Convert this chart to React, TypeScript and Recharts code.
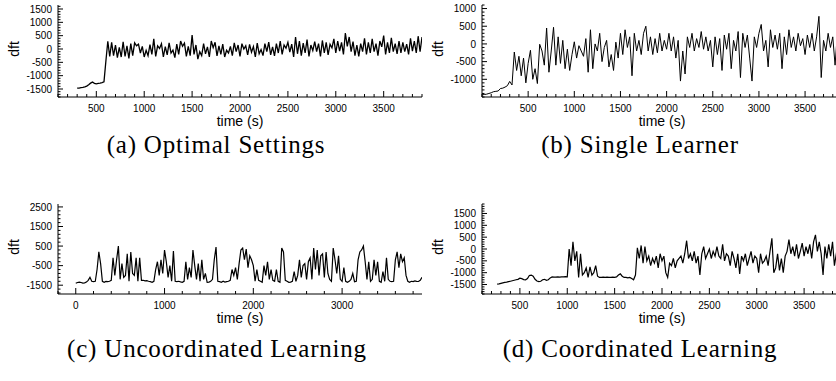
import React from 'react';
import { LineChart, Line, XAxis, YAxis } from 'recharts';

// ---------- data ----------
// (a) Optimal Settings: samples every 20 s starting at t = 300 s
const A_T0 = 300;
const A_STEP = 20;
const aValues = [
  -1470, -1465, -1450, -1440, -1420, -1390, -1340, -1280, -1240, -1290, -1310, -1290, -1280, -1260, -1230,
  -450, 290, -280, 250, -250, 150, -320, 60, -300, 270, -280, 120, -350, 200, -250,
  230, 120, 180, -150, 100, -300, -50, -250, 160, -200, 380, -280, 120, 20, 200,
  -300, 90, -220, 230, -150, -40, -320, 180, -200, 300, 100, 220, -280, 100, -250,
  520, -200, 150, -380, -100, -250, 200, -180, 80, -300, 300, 50, 250, -260, 120,
  -200, 180, -300, -50, -150, 100, -250, 230, -100, 150, -280, 200, 0, 120, -220,
  170, -120, 90, -300, 220, -180, -20, -250, 200, -100, 260, -220, 80, -260, 200,
  -150, 300, -200, 150, 30, 250, -120, 180, -300, 450, -180, 300, -250, 220, -150,
  350, -280, 150, -60, 280, -100, 200, -280, 320, -150, 250, -220, 180, 40, 380,
  -150, 300, -80, 250, -200, 600, 100, 450, -100, 280, -250, 150, -280, 200, -100,
  400, -200, 250, -150, 380, -100, 200, -250, 300, 80, 500, -200, 250, -150, 420,
  -100, 200, -180, 300, -150, 250, -100, 180, -200, 400, -80, 300, -150, 480, -100, 450,
];

// (b) Single Learner: samples every 25 s starting at t = 0 s
const B_T0 = 0;
const B_STEP = 25;
const bValues = [
  -1440, -1430, -1420, -1400, -1380, -1350, -1340, -1330, -1260, -1250, -1220, -1180, -1060, -1160,
  -230, -750, -350, -900, -400, -1100, -550, -180, -1000, -700, -1120, -10, -200, -600, 450, -800,
  -200, 470, -600, 200, -550, 100, -700, -150, -750, -300, 60, -400, -50, -200, -350, 150,
  -800, 400, -700, 0, -200, 300, -500, -100, 100, -650, -300, -750, 50, -400, 300, -300,
  400, -100, 200, -900, 300, -200, 100, -300, 300, 500, -200, 200, -300, 150, -250, 300,
  -200, 100, -150, 300, -200, 200, -400, 100, -1050, -200, -850, 200, -100, 300, -200, 150,
  -100, 350, -150, 200, -200, 100, -650, 200, -300, 150, -750, 250, -150, 300, -700, 100,
  -200, 350, -950, 300, -100, 250, -400, -1050, 200, -100, 300, 550, -200, 100, -650, 400,
  -100, 250, -150, 300, -700, 200, -300, 400, -100, 200, -200, 300, -50, 150, -300, 250,
  -100, 300, -200, 200, 780, -950, 100, -200, 300, -100, 200, -600, 300, -100, 250,
];

// (c) Uncoordinated Learning: samples every 20 s starting at t = 0 s
const C_T0 = 0;
const C_STEP = 20;
const cValues = [
  -1400, -1360, -1340, -1360, -1390, -1380, -1340, -1250, -1100, -1300, -1320, -1300, -700, 200, -400,
  -1300, -1350, -1310, -1320, -1300, -1250, -100, -1000, -200, 500, -1200, -400, -1100, -1000, 100,
  -1300, 200, -900, -1000, -100, -1300, -100, -1250, -1250, -1280, -1270, -1300, -1320, -1350, -1300,
  -700, -300, -1000, -200, -900, 300, -300, -1100, -500, -1300, 250, -1300, -1320, -1300, -1330,
  -1350, -1300, -300, -1200, -600, -1100, 300, -500, -1200, -400, -1300, -200, -1200, -900, -1350,
  -1340, -1300, -1200, -200, 450, -1300, -1320, -1350, -1300, -1340, -1320, -1300, -1250, -700, -1000,
  -600, -1200, -400, 300, 400, -200, 350, -600, 0, -200, -500, -1300, -700, -1250, -1300,
  -1350, -500, -1000, -300, -1200, -700, -1250, -1300, -700, -1300, -1350, 400, 200, -1250, -1300,
  -1350, -1340, -1300, -800, -1300, -1000, -200, -1100, -500, -400, -1200, -300, -100, -1200, 400,
  -700, 300, -1000, 0, 100, -1100, 200, -900, -1200, -1300, 400, -200, -900, 0, -1200,
  -1300, -600, -1300, -1350, -1300, -1200, -900, -1320, -1300, -200, 200, 300, 500, -300, -1200,
  -300, -1300, -1200, -200, -1000, -300, -1300, -1350, -800, -1300, -100, -1200, -1300, -1320, -1300,
  -200, 200, -600, 100, -300, -100, -1000, -1300, -1350, -1300, -1320, -1280, -1300, -1310, -1250, -1100,
];

// (d) Coordinated Learning: samples every 20 s starting at t = 260 s
const D_T0 = 260;
const D_STEP = 20;
const dValues = [
  -1480, -1470, -1450, -1430, -1410, -1400, -1380, -1360, -1340, -1320, -1300, -1280, -1230, -1250, -1290,
  -1300, -1250, -1120, -1100, -1150, -1280, -1350, -1380, -1360, -1300, -1280, -1320, -1300, -1220, -1180,
  -1190, -1190, -1180, -1190, -1180, -1180, -1170, -1180, 0, -700, 300, -500, -100, -1200, -200,
  -1100, -1000, -800, -1200, -750, -1100, -1000, -700, -1150, -1200, -1200, -1190, -1200, -1190, -1200,
  -1200, -1190, -1200, -1180, -1100, -1050, -1150, -1200, -1200, -1220, -1200, -1250, -1300, -1100, 50,
  -400, 150, -600, 100, -500, -300, -700, -400, -600, -300, -800, -200, -500, -300, -1000,
  -1200, -600, -700, -400, -800, -500, -400, -300, -600, -200, 350, -400, -200, -500, -100,
  -600, -300, -1100, -200, 100, -400, -200, 0, -400, -100, -300, 100, -300, -400, 200,
  -500, -200, -300, -700, -100, -400, -800, -200, -1050, -300, -500, -200, -700, -400, -100,
  -600, -300, -400, -1000, -200, -600, -500, -300, -700, -100, 450, -1000, -800, -200, -900,
  -400, -1000, -300, -100, 400, -200, 100, -300, 200, -400, -100, 250, -300, 100, -200,
  200, -400, 300, 600, -100, 300, -200, -1100, 100, -400, 200, -300, 300, -700, -200, 300, -400, -200,
];

// axis ticks (labels)
const aXMajor = [500, 1000, 1500, 2000, 2500, 3000, 3500];
const aYMajor = [-1500, -1000, -500, 0, 500, 1000, 1500];
const bXMajor = [500, 1000, 1500, 2000, 2500, 3000, 3500];
const bYMajor = [-1000, -500, 0, 500, 1000];
const cXMajor = [0, 1000, 2000, 3000];
const cYMajor = [-1500, -500, 500, 1500, 2500];
const dXMajor = [500, 1000, 1500, 2000, 2500, 3000, 3500];
const dYMajor = [-1500, -1000, -500, 0, 500, 1000, 1500];

const captions = ['(a) Optimal Settings', '(b) Single Learner', '(c) Uncoordinated Learning', '(d) Coordinated Learning'];

// ---------- helpers ----------
const toRows = (t0: number, step: number, vals: number[]) => vals.map((v, i) => ({ t: t0 + i * step, v }));

const range = (lo: number, hi: number, step: number, anchor: number) => {
  const out: number[] = [];
  let s = anchor;
  while (s - step >= lo) s -= step;
  while (s < lo) s += step;
  for (let x = s; x <= hi + 1e-9; x += step) out.push(Math.round(x));
  return out;
};

const SANS = '"Liberation Sans", Arial, Helvetica, sans-serif';

const makeXTick = (majors: number[]) => (props: any) => {
  const { x, y, payload } = props;
  const v = payload.value;
  const major = majors.includes(v);
  return (
    <g>
      <line x1={x} x2={x} y1={y} y2={y - (major ? 6 : 3)} stroke="#000" strokeWidth={1} />
      {major && (
        <text x={x} y={y + 15} textAnchor="middle" fontSize={10} fontFamily={SANS} fill="#000">
          {v}
        </text>
      )}
    </g>
  );
};

const makeYTick = (majors: number[]) => (props: any) => {
  const { x, y, payload } = props;
  const v = payload.value;
  const major = majors.includes(v);
  return (
    <g>
      <line x1={x} x2={x + (major ? 5 : 2.5)} y1={y} y2={y} stroke="#000" strokeWidth={1} />
      {major && (
        <text x={x - 6} y={y + 3.6} textAnchor="end" fontSize={10} fontFamily={SANS} fill="#000">
          {v}
        </text>
      )}
    </g>
  );
};

type PanelProps = {
  left: number;
  top: number;
  rows: { t: number; v: number }[];
  xDomain: [number, number];
  yDomain: [number, number];
  xMajor: number[];
  yMajor: number[];
  xMinorStep: number;
  yMinorStep: number;
  marginTop: number;
  yAxisWidth: number;
  xAxisHeight: number;
  topStroke: string;
  topWidth: number;
  strokeWidth: number;
};

const W = 430;
const H = 140;

function Panel(p: PanelProps) {
  const xTicks = range(p.xDomain[0], p.xDomain[1], p.xMinorStep, p.xMajor[0]);
  const yTicks = range(p.yDomain[0], p.yDomain[1], p.yMinorStep, p.yMajor[0]);
  const plotLeft = p.yAxisWidth;
  const plotRight = W - 8;
  const plotBottom = H - p.xAxisHeight;
  const plotTop = p.marginTop;
  const cx = (plotLeft + plotRight) / 2;
  const cy = (plotTop + plotBottom) / 2;
  return (
    <div style={{ position: 'absolute', left: p.left, top: p.top, width: W, height: H }}>
      <LineChart width={W} height={H} data={p.rows} margin={{ top: p.marginTop, right: 8, bottom: 0, left: 0 }}>
        <XAxis
          xAxisId="top"
          orientation="top"
          type="number"
          dataKey="t"
          domain={p.xDomain}
          allowDataOverflow
          height={0}
          tick={false}
          tickLine={false}
          axisLine={{ stroke: p.topStroke, strokeWidth: p.topWidth }}
        />
        <YAxis
          yAxisId="right"
          orientation="right"
          type="number"
          dataKey="v"
          domain={p.yDomain}
          allowDataOverflow
          width={0}
          tick={false}
          tickLine={false}
          axisLine={{ stroke: '#000', strokeWidth: 1 }}
        />
        <XAxis
          type="number"
          dataKey="t"
          domain={p.xDomain}
          allowDataOverflow
          ticks={xTicks}
          interval={0}
          height={p.xAxisHeight}
          tickSize={0}
          tickMargin={0}
          tickLine={false}
          tick={makeXTick(p.xMajor)}
          axisLine={{ stroke: '#000', strokeWidth: 1 }}
          label={() => (
            <text x={cx} y={plotBottom + 29} textAnchor="middle" fontSize={14} fontFamily={SANS} fill="#000">
              time (s)
            </text>
          )}
        />
        <YAxis
          type="number"
          domain={p.yDomain}
          allowDataOverflow
          ticks={yTicks}
          interval={0}
          width={p.yAxisWidth}
          tickSize={0}
          tickMargin={0}
          tickLine={false}
          tick={makeYTick(p.yMajor)}
          axisLine={{ stroke: '#000', strokeWidth: 1 }}
          label={() => (
            <text
              x={plotLeft - 39}
              y={cy - 2}
              transform={`rotate(-90 ${plotLeft - 39} ${cy - 2})`}
              textAnchor="middle"
              fontSize={14}
              fontFamily={SANS}
              fill="#000"
            >
              dft
            </text>
          )}
        />
        <Line
          type="linear"
          dataKey="v"
          stroke="#000"
          strokeWidth={p.strokeWidth}
          dot={false}
          isAnimationActive={false}
        />
      </LineChart>
    </div>
  );
}

const captionStyle = (centerX: number, top: number): React.CSSProperties => ({
  position: 'absolute',
  left: centerX - 250,
  top,
  width: 500,
  height: 20,
  textAlign: 'center',
  fontFamily: '"Liberation Serif", "Times New Roman", serif',
  fontSize: 25,
  lineHeight: '20px',
  letterSpacing: '0.8px',
  color: '#000',
  whiteSpace: 'nowrap',
});

export default function App() {
  return (
    <div
      style={{
        position: 'absolute',
        left: 0,
        top: 0,
        width: 836,
        height: 381,
        overflow: 'hidden',
        background: '#fff',
      }}
    >
      <Panel
        left={0}
        top={0}
        rows={toRows(A_T0, A_STEP, aValues)}
        xDomain={[100, 3900]}
        yDomain={[-1800, 1650]}
        xMajor={aXMajor}
        yMajor={aYMajor}
        xMinorStep={100}
        yMinorStep={100}
        marginTop={5}
        yAxisWidth={58}
        xAxisHeight={43}
        topStroke="#555"
        topWidth={2.5}
        strokeWidth={1.3}
      />
      <Panel
        left={420}
        top={0}
        rows={toRows(B_T0, B_STEP, bValues)}
        xDomain={[0, 3900]}
        yDomain={[-1500, 1100]}
        xMajor={bXMajor}
        yMajor={bYMajor}
        xMinorStep={100}
        yMinorStep={100}
        marginTop={5}
        yAxisWidth={62}
        xAxisHeight={43}
        topStroke="#555"
        topWidth={2.5}
        strokeWidth={1}
      />
      <Panel
        left={0}
        top={195}
        rows={toRows(C_T0, C_STEP, cValues)}
        xDomain={[-200, 3900]}
        yDomain={[-1950, 2650]}
        xMajor={cXMajor}
        yMajor={cYMajor}
        xMinorStep={200}
        yMinorStep={200}
        marginTop={9}
        yAxisWidth={58}
        xAxisHeight={41}
        topStroke="#000"
        topWidth={1.5}
        strokeWidth={1.2}
      />
      <Panel
        left={420}
        top={195}
        rows={toRows(D_T0, D_STEP, dValues)}
        xDomain={[100, 3900]}
        yDomain={[-1900, 1900]}
        xMajor={dXMajor}
        yMajor={dYMajor}
        xMinorStep={100}
        yMinorStep={100}
        marginTop={9}
        yAxisWidth={62}
        xAxisHeight={41}
        topStroke="#000"
        topWidth={1.5}
        strokeWidth={1.2}
      />
      <div style={captionStyle(216, 135)}>{captions[0]}</div>
      <div style={captionStyle(640, 135)}>{captions[1]}</div>
      <div style={captionStyle(217, 339)}>{captions[2]}</div>
      <div style={captionStyle(640, 339)}>{captions[3]}</div>
    </div>
  );
}
